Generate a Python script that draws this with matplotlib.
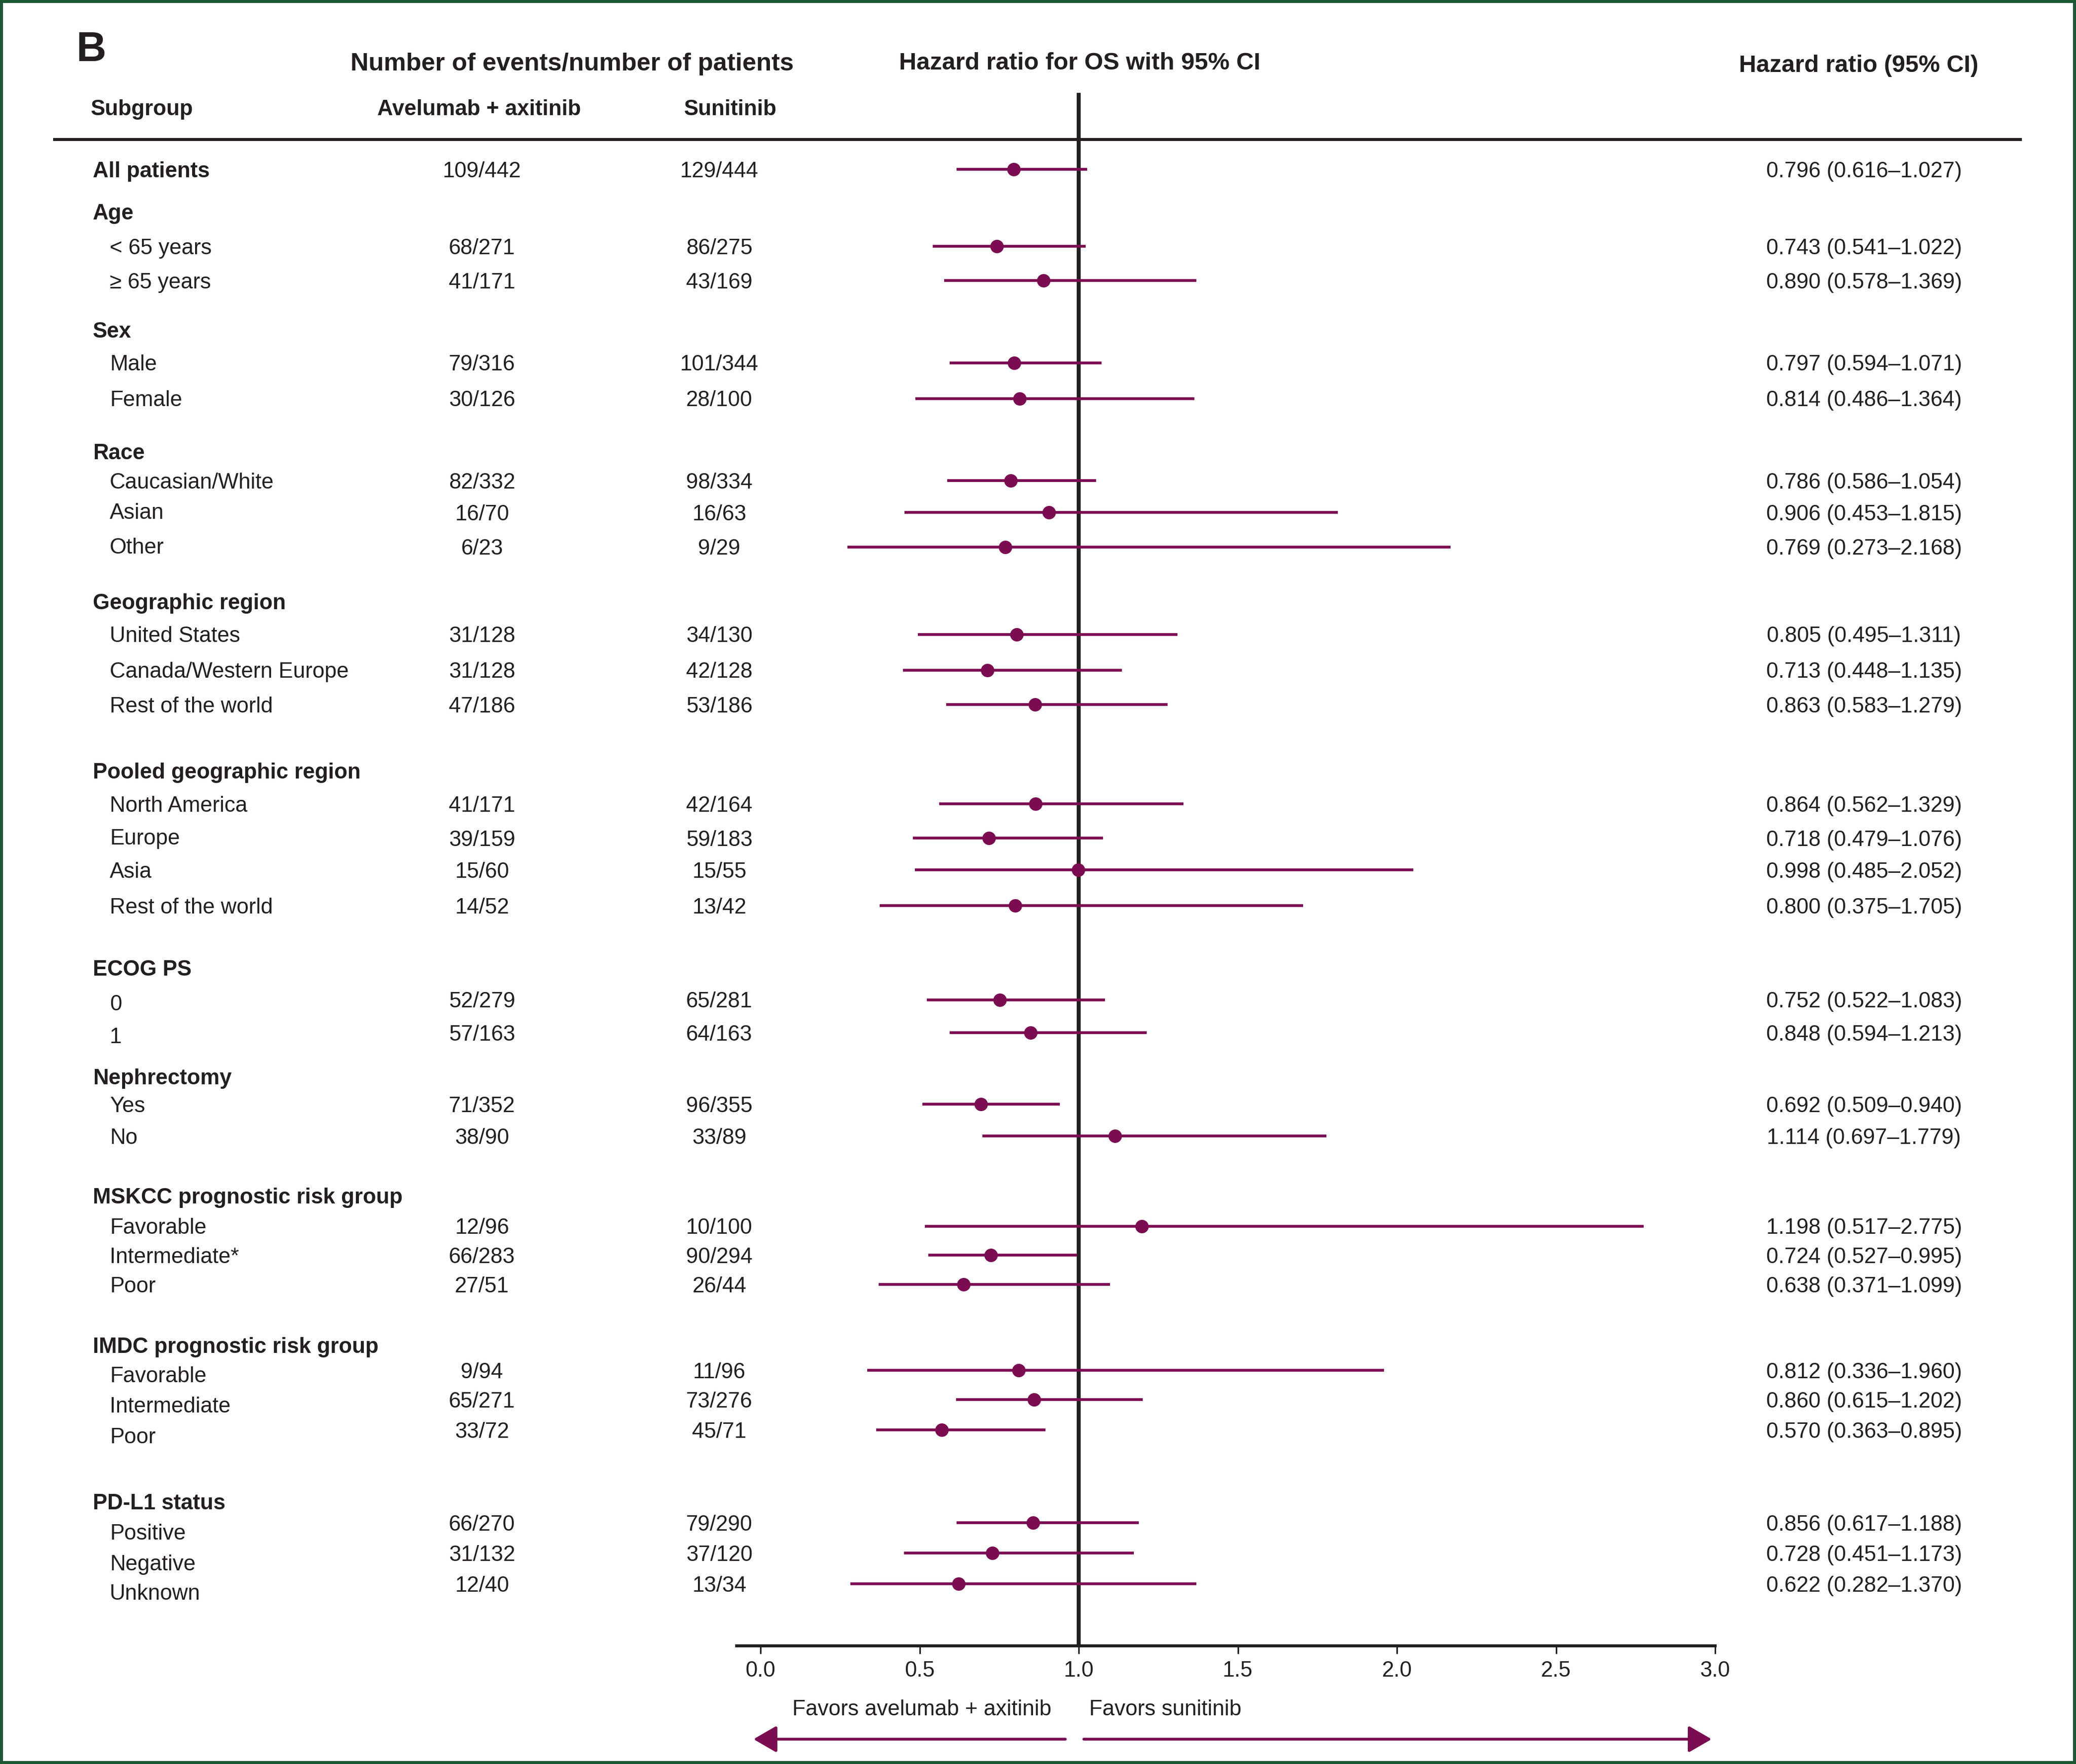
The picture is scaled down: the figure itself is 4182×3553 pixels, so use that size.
import matplotlib
matplotlib.use("Agg")
import matplotlib.pyplot as plt
from matplotlib.patches import Rectangle
import numpy as np

# ---------------- data ----------------
nan = np.nan
subgroups = ["All patients", "Age", "< 65 years", "≥ 65 years", "Sex", "Male", "Female",
             "Race", "Caucasian/White", "Asian", "Other",
             "Geographic region", "United States", "Canada/Western Europe", "Rest of the world",
             "Pooled geographic region", "North America", "Europe", "Asia", "Rest of the world",
             "ECOG PS", "0", "1", "Nephrectomy", "Yes", "No",
             "MSKCC prognostic risk group", "Favorable", "Intermediate*", "Poor",
             "IMDC prognostic risk group", "Favorable", "Intermediate", "Poor",
             "PD-L1 status", "Positive", "Negative", "Unknown"]
is_heading = [True, True, False, False, True, False, False,
              True, False, False, False,
              True, False, False, False,
              True, False, False, False, False,
              True, False, False, True, False, False,
              True, False, False, False,
              True, False, False, False,
              True, False, False, False]
avelumab_axitinib = ["109/442", None, "68/271", "41/171", None, "79/316", "30/126",
                     None, "82/332", "16/70", "6/23",
                     None, "31/128", "31/128", "47/186",
                     None, "41/171", "39/159", "15/60", "14/52",
                     None, "52/279", "57/163", None, "71/352", "38/90",
                     None, "12/96", "66/283", "27/51",
                     None, "9/94", "65/271", "33/72",
                     None, "66/270", "31/132", "12/40"]
sunitinib = ["129/444", None, "86/275", "43/169", None, "101/344", "28/100",
             None, "98/334", "16/63", "9/29",
             None, "34/130", "42/128", "53/186",
             None, "42/164", "59/183", "15/55", "13/42",
             None, "65/281", "64/163", None, "96/355", "33/89",
             None, "10/100", "90/294", "26/44",
             None, "11/96", "73/276", "45/71",
             None, "79/290", "37/120", "13/34"]
hr = [0.796, nan, 0.743, 0.890, nan, 0.797, 0.814,
      nan, 0.786, 0.906, 0.769,
      nan, 0.805, 0.713, 0.863,
      nan, 0.864, 0.718, 0.998, 0.800,
      nan, 0.752, 0.848, nan, 0.692, 1.114,
      nan, 1.198, 0.724, 0.638,
      nan, 0.812, 0.860, 0.570,
      nan, 0.856, 0.728, 0.622]
ci_low = [0.616, nan, 0.541, 0.578, nan, 0.594, 0.486,
          nan, 0.586, 0.453, 0.273,
          nan, 0.495, 0.448, 0.583,
          nan, 0.562, 0.479, 0.485, 0.375,
          nan, 0.522, 0.594, nan, 0.509, 0.697,
          nan, 0.517, 0.527, 0.371,
          nan, 0.336, 0.615, 0.363,
          nan, 0.617, 0.451, 0.282]
ci_high = [1.027, nan, 1.022, 1.369, nan, 1.071, 1.364,
           nan, 1.054, 1.815, 2.168,
           nan, 1.311, 1.135, 1.279,
           nan, 1.329, 1.076, 2.052, 1.705,
           nan, 1.083, 1.213, nan, 0.940, 1.779,
           nan, 2.775, 0.995, 1.099,
           nan, 1.960, 1.202, 0.895,
           nan, 1.188, 1.173, 1.370]
xticks = [0.0, 0.5, 1.0, 1.5, 2.0, 2.5, 3.0]
xtick_labels = ["0.0", "0.5", "1.0", "1.5", "2.0", "2.5", "3.0"]

# ---------------- layout (pixel positions) ----------------
W, H, DPI = 4182, 3553, 300
S = W / 1568.0
row_y_disp = [128, 160, 186, 212, 249, 274, 301, 341, 363, 387, 413, 454, 479, 506, 532,
              582, 607, 633, 657, 684, 731, 755, 780, 813, 834, 858, 903, 926, 948, 970,
              1016, 1035, 1057, 1080, 1134, 1150, 1173, 1196]
label_dy_disp = [0, 0, 0, 0, 0, 0, 0, 0, 0, -1, -1, 0, 0, 0, 0,
                 0, 0, -1, 0, 0, 0, 2, 2, 0, 0, 0, 0, 0, 0, 0,
                 0, 3, 4, 4, 0, 7, 7, 6]
row_y = [v * S for v in row_y_disp]

INK = "#231f20"
MARK = "#7b0c52"
GREEN = "#1c5a36"
FS = 10.5
base_off = FS * DPI / 72 * 0.716 / 2  # baseline offset so that cap-height is centred

plt.rcParams["font.family"] = ["Liberation Sans", "DejaVu Sans"]

fig = plt.figure(figsize=(W / DPI, H / DPI), dpi=DPI)
bg = fig.add_axes([0, 0, 1, 1])
bg.set_xlim(0, W)
bg.set_ylim(H, 0)
bg.axis("off")

# forest axes geometry
x0_px, unit_px = 1532.0, 641.0
ax_left_px, ax_right_px = 1484.0, 3460.0
ax_top_px, ax_bot_px = 187.0, 3315.0
ax = fig.add_axes([ax_left_px / W, 1 - ax_bot_px / H,
                   (ax_right_px - ax_left_px) / W, (ax_bot_px - ax_top_px) / H])
ax.patch.set_alpha(0)
xl = ((ax_left_px - x0_px) / unit_px, (ax_right_px - x0_px) / unit_px)
ax.set_xlim(*xl)
ax.set_ylim(ax_bot_px, ax_top_px)
for s in ["left", "right", "top"]:
    ax.spines[s].set_visible(False)
ax.spines["bottom"].set_linewidth(1.45)
ax.spines["bottom"].set_color(INK)
ax.spines["bottom"].set_bounds(xl[0], 3.0)
ax.set_yticks([])
ax.set_xticks(xticks)
ax.set_xticklabels(xtick_labels)
ax.tick_params(axis="x", direction="out", length=3.9, width=0.75, color=INK,
               pad=3.3, labelsize=FS, labelcolor=INK)

ax.axvline(1.0, color=INK, lw=1.9, zorder=1)

hr_a = np.array(hr)
lo_a = np.array(ci_low)
hi_a = np.array(ci_high)
ya = np.array(row_y)
m = ~np.isnan(hr_a)
ax.hlines(ya[m], lo_a[m], hi_a[m], color=MARK, lw=1.35, zorder=2)
ax.plot(hr_a[m], ya[m], "o", color=MARK, ms=6.5, mew=0, zorder=3)

# ---------------- texts ----------------
bg.text(153, 123, "B", fontsize=20, fontweight="bold", color=INK, va="baseline", ha="left")
bg.text(1153, 142, "Number of events/number of patients", fontsize=12.1, fontweight="bold",
        color=INK, ha="center", va="baseline")
bg.text(2175, 140, "Hazard ratio for OS with 95% CI", fontsize=11.7, fontweight="bold",
        color=INK, ha="center", va="baseline")
bg.text(3744, 145, "Hazard ratio (95% CI)", fontsize=11.6, fontweight="bold",
        color=INK, ha="center", va="baseline")
bg.text(183, 232, "Subgroup", fontsize=FS, fontweight="bold", color=INK, ha="left", va="baseline")
bg.text(965, 232, "Avelumab + axitinib", fontsize=FS, fontweight="bold", color=INK,
        ha="center", va="baseline")
bg.text(1471, 232, "Sunitinib", fontsize=FS, fontweight="bold", color=INK,
        ha="center", va="baseline")
bg.plot([107, 4073], [281, 281], color=INK, lw=1.45, solid_capstyle="butt")

for i, name in enumerate(subgroups):
    yb = row_y[i] + base_off
    yl = (row_y_disp[i] + label_dy_disp[i]) * S + base_off
    if is_heading[i]:
        bg.text(187, yl, name, fontsize=FS, fontweight="bold", color=INK, ha="left", va="baseline")
    else:
        bg.text(221, yl, name, fontsize=FS, color=INK, ha="left", va="baseline")
    if avelumab_axitinib[i] is not None:
        bg.text(971, yb, avelumab_axitinib[i], fontsize=FS, color=INK, ha="center", va="baseline")
        bg.text(1449, yb, sunitinib[i], fontsize=FS, color=INK, ha="center", va="baseline")
    if not np.isnan(hr[i]):
        bg.text(3755, yb, f"{hr[i]:.3f} ({ci_low[i]:.3f}\u2013{ci_high[i]:.3f})",
                fontsize=FS, color=INK, ha="center", va="baseline")

# favours labels and arrows
bg.text(1857, 3455, "Favors avelumab + axitinib", fontsize=FS, color=INK, ha="center", va="baseline")
bg.text(2194, 3455, "Favors sunitinib", fontsize=FS, color=INK, ha="left", va="baseline")
arrow_y = 3503
aprops = dict(arrowstyle="-|>,head_length=0.95,head_width=0.55", color=MARK, lw=1.35,
              shrinkA=0, shrinkB=0, mutation_scale=10)
bg.annotate("", xy=(-0.022, arrow_y), xytext=(0.958, arrow_y),
            xycoords=(ax.transData, bg.transData), textcoords=(ax.transData, bg.transData),
            arrowprops=aprops)
bg.annotate("", xy=(2.989, arrow_y), xytext=(1.016, arrow_y),
            xycoords=(ax.transData, bg.transData), textcoords=(ax.transData, bg.transData),
            arrowprops=aprops)

# green frame
fig.patches.append(Rectangle((0, 0), 1, 1, transform=fig.transFigure, fill=False,
                             edgecolor=GREEN, lw=2.9, zorder=10))

fig.savefig("out.png", dpi=DPI)
